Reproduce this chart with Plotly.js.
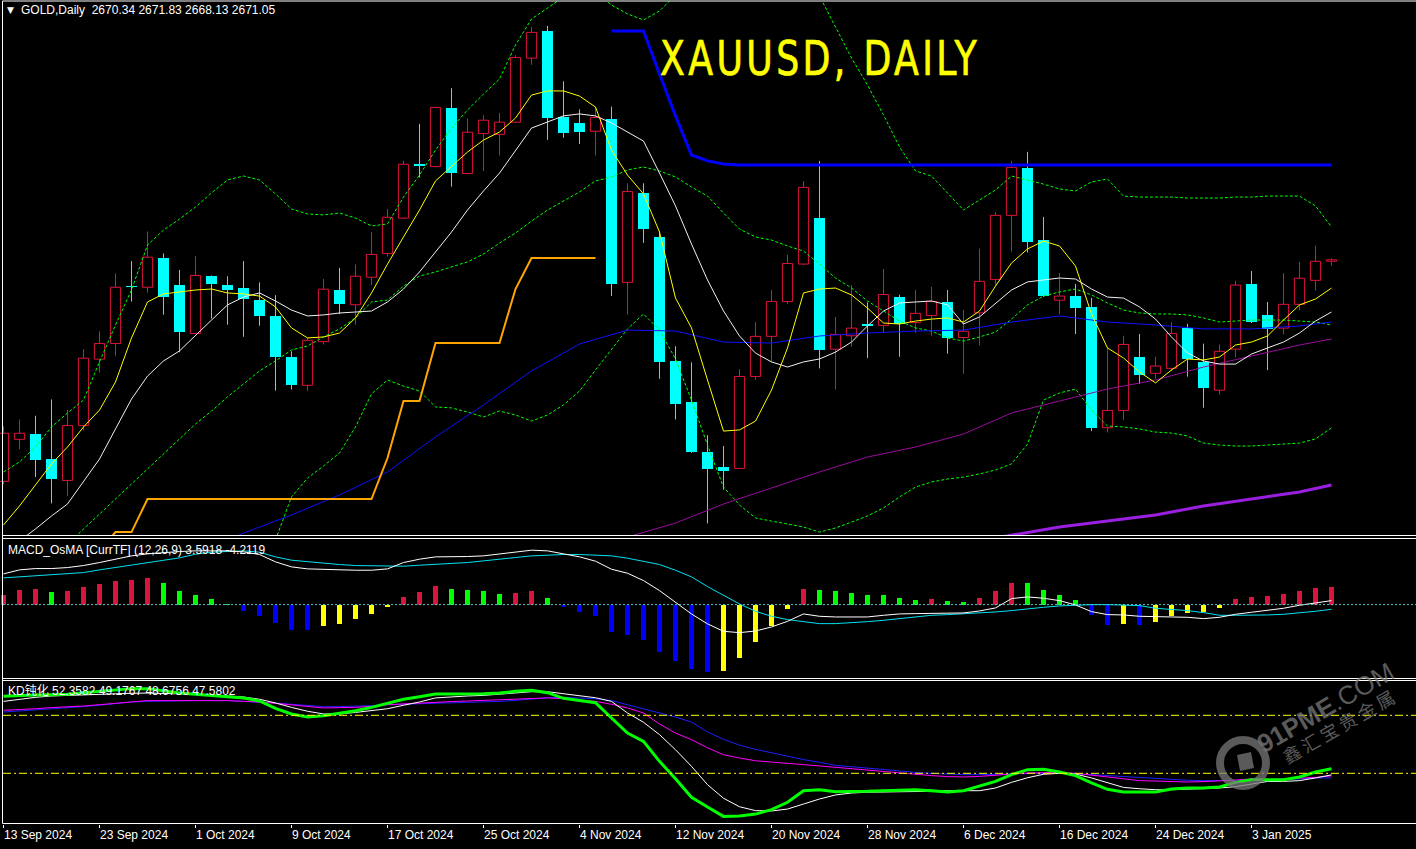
<!DOCTYPE html>
<html>
<head>
<meta charset="utf-8">
<script src="https://cdn.plot.ly/plotly-3.0.1.min.js"></script>
<style>
  html, body { margin: 0; padding: 0; background: #000; }
  #chart { width: 1416px; height: 849px; }
</style>
</head>
<body>
<div id="chart"></div>
<script>
// ---- Daily bars, 13 Sep 2024 .. 10 Jan 2025 (bar index 0..83) ----
const dateBars   = [0, 6, 12, 18, 24, 30, 36, 42, 48, 54, 60, 66, 72, 78];
const dateLabels = ['13 Sep 2024', '23 Sep 2024', '1 Oct 2024', '9 Oct 2024', '17 Oct 2024',
  '25 Oct 2024', '4 Nov 2024', '12 Nov 2024', '20 Nov 2024', '28 Nov 2024', '6 Dec 2024',
  '16 Dec 2024', '24 Dec 2024', '3 Jan 2025'];

const open = [2558.3,2579.7,2582.5,2569.7,2558.8,2586.7,2620.5,2628.5,2657.8,2657.1,
  2671.8,2658.5,2633.6,2662.7,2658.5,2656.6,2650.6,2642.7,2621.5,2607.2,
  2629.4,2655.7,2648.2,2662.2,2674.3,2692.3,2719.7,2718.5,2748.1,2715.0,
  2735.3,2734.9,2741.1,2773.7,2787.5,2743.7,2740.7,2736.5,2742.6,2659.6,
  2705.1,2682.7,2619.6,2598.8,2573.3,2565.5,2564.9,2611.7,2632.1,2649.8,
  2668.9,2692.3,2625.6,2632.4,2638.5,2637.7,2652.2,2639.1,2642.7,2649.6,
  2631.5,2644.1,2661.1,2693.7,2717.8,2681.1,2650.5,2652.6,2646.8,2585.6,
  2594.4,2621.5,2613.3,2615.8,2636.4,2619.3,2604.7,2625.6,2658.7,2642.9,
  2636.3,2648.4,2660.6,2670.34];
const high = [2586.3,2589.8,2591.7,2600.0,2594.7,2625.6,2634.7,2664.1,2670.4,2685.5,
  2674.3,2665.9,2672.9,2663.1,2662.7,2670.4,2659.6,2653.1,2624.5,2631.5,
  2661.3,2666.9,2668.7,2685.2,2696.9,2721.4,2740.2,2749.0,2758.4,2743.0,
  2744.6,2745.8,2775.2,2789.6,2790.1,2761.9,2747.6,2749.0,2749.0,2710.0,
  2710.0,2685.5,2627.1,2618.9,2581.8,2576.3,2615.4,2639.4,2655.7,2673.6,
  2711.1,2721.4,2642.0,2658.2,2649.4,2666.4,2653.3,2655.7,2657.3,2655.7,
  2645.6,2676.7,2695.3,2721.4,2726.0,2692.9,2664.3,2658.7,2651.7,2626.3,
  2632.4,2633.3,2621.7,2639.4,2638.5,2628.4,2628.0,2660.4,2665.4,2649.6,
  2664.3,2670.1,2678.3,2671.83];
const low = [2557.0,2574.7,2560.5,2547.1,2550.9,2584.2,2613.7,2622.2,2649.8,2654.3,
  2643.1,2624.0,2633.3,2641.2,2638.0,2631.9,2637.5,2604.5,2605.1,2604.4,
  2628.0,2643.4,2638.0,2658.2,2672.7,2691.8,2713.0,2718.1,2708.3,2714.6,
  2716.2,2724.1,2740.7,2770.3,2732.1,2733.2,2730.0,2724.1,2652.6,2643.1,
  2679.7,2610.5,2589.8,2572.8,2536.9,2554.1,2564.6,2610.0,2618.9,2648.7,
  2668.3,2615.8,2605.1,2626.8,2621.0,2633.8,2621.7,2634.0,2632.4,2623.3,
  2613.1,2627.5,2658.2,2675.2,2674.8,2652.2,2643.3,2633.3,2583.9,2583.2,
  2589.5,2607.9,2610.5,2614.4,2611.6,2595.8,2602.4,2621.5,2638.9,2614.9,
  2633.1,2645.4,2655.4,2668.13];
const close = [2582.8,2582.8,2569.3,2559.7,2586.7,2621.0,2628.5,2657.1,2657.1,2672.4,
  2651.9,2634.5,2663.1,2658.9,2655.9,2651.3,2642.6,2621.7,2607.5,2630.1,
  2656.1,2648.5,2662.7,2673.8,2692.7,2719.7,2719.0,2748.6,2715.0,2736.0,
  2742.1,2741.1,2774.0,2786.8,2743.2,2735.8,2736.3,2743.5,2658.7,2705.8,
  2686.9,2619.3,2597.9,2573.2,2564.8,2563.7,2611.7,2632.1,2649.9,2669.2,
  2707.9,2625.4,2633.1,2636.3,2637.5,2653.4,2638.5,2643.8,2649.9,2631.5,
  2634.7,2660.1,2693.7,2718.1,2680.3,2652.9,2652.6,2646.3,2585.6,2594.4,
  2628.0,2612.6,2617.0,2633.6,2620.8,2605.9,2624.5,2658.2,2639.6,2635.6,
  2648.4,2661.7,2670.3,2671.05];

// Moving averages on the price panel
const maFast = [2536.1,2545.8,2556.5,2567.2,2575.8,2586.0,2594.6,2608.9,2631.3,2649.6,
  2653.7,2654.7,2655.7,2656.2,2654.2,2653.7,2652.6,2647.1,2636.4,2631.3,
  2631.8,2633.8,2641.5,2654.2,2668.9,2682.7,2696.4,2711.2,2718.8,2725.9,
  2732.0,2736.1,2743.2,2754.9,2757.0,2757.0,2754.4,2748.8,2726.9,2714.2,
  2704.6,2685.2,2651.6,2636.4,2609.9,2583.9,2584.5,2589.0,2604.8,2626.2,
  2654.2,2656.2,2656.7,2653.2,2646.5,2638.9,2638.4,2639.9,2640.9,2641.5,
  2639.4,2645.0,2657.7,2669.4,2676.6,2680.6,2678.1,2667.9,2643.5,2626.2,
  2621.1,2614.0,2608.4,2615.0,2620.6,2620.1,2621.6,2627.7,2629.2,2632.3,
  2640.4,2648.1,2651.1,2656.7];
const maMid = [2521.3,2528.0,2534.1,2540.7,2546.8,2558.5,2569.7,2585.0,2600.2,2611.9,
  2619.6,2624.7,2632.8,2640.4,2648.1,2652.1,2654.2,2650.1,2645.5,2642.5,
  2643.0,2644.0,2644.5,2645.0,2649.6,2656.2,2664.9,2675.0,2685.2,2696.4,
  2706.1,2715.2,2726.9,2738.1,2741.2,2744.3,2745.3,2744.3,2740.7,2736.1,
  2731.5,2715.2,2698.5,2679.1,2660.8,2645.0,2632.3,2623.6,2619.1,2616.5,
  2619.1,2620.6,2624.1,2629.2,2637.4,2645.0,2649.1,2649.6,2650.1,2648.1,
  2638.4,2642.0,2649.1,2655.7,2659.8,2660.8,2661.8,2661.3,2656.2,2652.1,
  2651.6,2647.1,2640.9,2631.8,2623.6,2619.6,2618.0,2618.0,2623.1,2626.2,
  2629.2,2633.8,2639.9,2644.5];

// Bollinger bands
const bbUpper = [2563.1,2568.2,2575.8,2586.0,2593.1,2599.7,2619.1,2637.9,2655.7,2678.6,
  2686.2,2691.8,2697.9,2705.1,2711.7,2713.7,2711.7,2704.6,2696.9,2694.4,
  2693.9,2694.9,2692.3,2688.3,2689.3,2703.0,2714.2,2726.9,2738.1,2747.3,
  2755.4,2763.1,2780.4,2793.6,2799.2,2804.8,2806.8,2807.4,2800.7,2796.2,
  2793.1,2797.7,2805.8,2816.5,2830.3,2834.3,2827.2,2825.7,2824.1,2819.6,
  2816.0,2805.3,2789.5,2773.8,2760.0,2744.8,2728.5,2716.3,2713.7,2705.1,
  2696.4,2701.5,2706.6,2713.7,2711.7,2709.6,2707.1,2706.1,2710.7,2712.2,
  2703.5,2703.0,2703.0,2703.0,2702.5,2702.5,2702.5,2703.0,2703.0,2703.5,
  2703.5,2703.5,2698.5,2687.8];
const bbMiddle = [null,null,null,null,2526.4,2534.1,2541.7,2549.3,2557.0,2564.6,
  2572.2,2579.9,2587.5,2594.1,2601.3,2607.9,2614.5,2619.6,2625.2,2627.2,
  2631.8,2635.9,2641.5,2649.6,2650.6,2657.7,2662.8,2664.9,2667.4,2670.0,
  2674.0,2679.6,2684.7,2690.8,2696.4,2701.0,2705.6,2711.2,2713.2,2716.8,
  2718.3,2716.3,2713.2,2708.1,2703.5,2694.9,2686.7,2682.7,2681.1,2678.1,
  2675.5,2668.9,2661.8,2656.7,2650.1,2645.0,2639.9,2636.4,2634.8,2631.3,
  2629.7,2631.8,2634.3,2640.9,2648.1,2652.6,2654.7,2656.2,2653.2,2649.1,
  2645.5,2644.0,2643.5,2643.5,2643.0,2641.5,2639.4,2639.9,2640.4,2640.4,
  2640.4,2639.9,2639.4,2637.9];
const bbLower = [null,null,null,null,null,null,null,null,null,null,
  null,null,null,null,null,null,null,2528.5,2550.4,2560.0,
  2566.1,2572.8,2586.0,2602.8,2609.9,2606.8,2604.3,2596.2,2595.7,2593.6,
  2591.1,2594.1,2592.1,2589.0,2592.1,2597.2,2604.3,2615.0,2625.2,2635.9,
  2643.5,2635.3,2620.6,2599.7,2576.8,2555.4,2546.3,2539.7,2538.1,2536.6,
  2535.1,2532.5,2534.6,2537.6,2540.7,2544.8,2550.4,2555.4,2558.0,2559.5,
  2560.5,2562.1,2564.1,2567.2,2577.3,2599.7,2603.3,2605.3,2594.6,2586.5,
  2586.0,2585.0,2583.4,2582.9,2581.4,2577.8,2576.8,2576.3,2576.3,2576.8,
  2577.3,2577.8,2579.9,2585.5];

// Slow moving averages, read every third bar
const maSlowBars = [14,15,18,21,24,27,30,33,36,39,42,45,48,51,54,57,60,63,66,69,72,75,78,81,83];
const maSlow = [2528.5,2532.0,2541.2,2551.4,2563.1,2580.9,2597.2,2614.5,2628.2,2635.3,
  2634.8,2629.2,2628.7,2632.3,2633.8,2634.8,2635.3,2639.4,2642.5,2639.4,
  2637.9,2635.9,2635.9,2637.4,2639.4];
const maLongBars = [39,42,45,48,51,54,57,60,63,66,69,72,75,78,81,83];
const maLong = [2530.0,2537.1,2546.8,2554.9,2563.1,2570.7,2575.8,2582.4,2593.1,2599.2,
  2605.3,2609.9,2616.5,2622.1,2627.7,2630.8];
const maTrendBars = [62,63,66,69,72,75,78,81,83];
const maTrend = [2529.5,2531.0,2535.1,2538.1,2541.2,2545.8,2549.3,2552.9,2556.5];

// Stepped support (orange) and resistance (blue) levels
const supportLevel = [null,null,null,null,null,null,2522.9,2532.5,2532.5,2549.3,
  2549.3,2549.3,2549.3,2549.3,2549.3,2549.3,2549.3,2549.3,2549.3,2549.3,
  2549.3,2549.3,2549.3,2549.3,2570.2,2599.2,2599.2,2628.7,2628.7,2628.7,
  2628.7,2628.7,2656.2,2672.0,2672.0,2672.0,2672.0,2672.0];
const resistanceLevel = [null,null,null,null,null,null,null,null,null,null,
  null,null,null,null,null,null,null,null,null,null,
  null,null,null,null,null,null,null,null,null,null,
  null,null,null,null,null,null,null,null,2787.5,2787.5,
  2787.5,2765.6,2744.3,2724.4,2721.4,2719.8,2719.3,2719.3,2719.3,2719.3,
  2719.3,2719.3,2719.3,2719.3,2719.3,2719.3,2719.3,2719.3,2719.3,2719.3,
  2719.3,2719.3,2719.3,2719.3,2719.3,2719.3,2719.3,2719.3,2719.3,2719.3,
  2719.3,2719.3,2719.3,2719.3,2719.3,2719.3,2719.3,2719.3,2719.3,2719.3,
  2719.3,2719.3,2719.3,2719.3];

// MACD_OsMA (12,26,9)
const osma = [8.4,12.9,13.8,11.1,12.0,15.6,18.3,21.0,21.9,23.7,
  19.2,12.0,9.0,4.8,0.3,-6.0,-10.5,-16.8,-22.8,-23.1,
  -19.2,-17.7,-13.2,-8.7,-2.4,6.6,11.1,16.5,13.8,12.9,
  12.0,9.3,10.2,12.0,5.7,-2.1,-6.9,-10.5,-24.9,-27.6,
  -32.1,-42.9,-51.0,-57.9,-60.9,-60.0,-48.3,-33.9,-19.5,-4.2,
  13.8,12.9,12.0,10.2,8.4,8.3,5.7,3.9,4.8,3.0,
  2.1,5.7,12.0,19.4,19.2,12.9,8.4,3.9,-9.6,-18.0,
  -17.7,-18.6,-15.9,-10.5,-7.2,-6.9,-3.3,4.8,6.6,7.5,
  9.3,12.0,14.7,15.6];
const macdMain = [27.6,31.2,32.4,32.4,33.3,35.1,37.8,40.8,43.8,45.6,
  46.8,47.7,48.3,48.3,48.3,47.4,45.0,38.4,33.9,32.1,
  31.5,30.9,30.9,30.9,32.1,37.8,40.8,42.9,42.9,43.2,
  43.8,45.3,47.4,48.9,48.3,45.6,42.9,39.0,31.8,28.2,
  21.6,12.6,1.8,-8.4,-17.3,-24.0,-25.2,-23.7,-20.1,-15.0,
  -8.4,-10.5,-11.1,-11.1,-11.1,-9.6,-8.4,-8.1,-8.1,-8.1,
  -7.5,-5.7,-3.0,5.4,6.9,5.7,3.6,-0.3,-6.3,-9.0,
  -9.3,-10.5,-11.1,-11.1,-11.4,-12.6,-11.4,-8.7,-6.9,-5.1,
  -3.3,-0.6,1.5,3.5918];
const macdSignal = [24.0,24.9,25.5,26.4,27.6,28.8,31.2,33.3,35.7,37.8,
  39.3,42.0,45.3,47.1,47.7,48.3,47.1,42.9,39.9,38.4,
  37.2,36.0,35.1,34.8,34.2,34.5,35.4,36.0,36.9,37.8,
  39.3,40.5,42.3,43.8,44.7,45.0,45.0,44.7,43.8,41.7,
  39.0,36.0,30.9,24.9,16.2,8.1,0.6,-6.0,-10.5,-13.5,
  -15.6,-17.1,-17.1,-16.5,-15.3,-14.1,-12.6,-10.8,-9.6,-9.0,
  -8.4,-7.8,-6.6,-5.4,-3.6,-2.4,-1.2,-0.3,0.0,0.0,
  -0.3,-0.9,-3.3,-4.2,-5.4,-7.2,-9.6,-9.6,-9.6,-9.3,
  -8.7,-7.5,-6.0,-4.2119];

// KD panel
const kdFast = [89.8,90.3,90.5,90.7,90.9,91.7,92.4,93.4,93.8,93.8,
  92.7,91.5,90.9,90.2,89.6,89.0,87.4,83.6,80.7,79.1,
  79.8,81.0,82.4,84.1,86.4,88.3,89.6,91.0,91.0,91.0,
  91.2,91.5,92.4,92.9,91.7,88.8,87.6,86.5,78.6,70.8,
  66.5,56.2,47.2,37.6,32.6,27.7,27.9,28.9,31.2,35.0,
  41.0,41.5,40.5,40.5,40.7,41.0,41.4,41.5,41.0,40.3,
  41.0,43.4,45.8,49.3,51.9,52.1,50.7,48.8,45.0,41.7,
  40.3,40.3,40.3,41.9,42.4,42.4,42.9,45.3,46.7,46.7,
  46.7,48.1,50.7,52.3582];
const kdK = [87.2,88.4,89.3,90.0,90.3,90.7,90.9,91.0,91.4,91.5,
  91.4,91.2,90.9,90.5,90.0,89.5,88.3,86.4,84.1,82.1,
  80.7,80.7,81.5,82.6,83.4,85.2,86.9,89.0,89.6,90.0,
  90.3,90.9,91.4,92.2,92.2,91.2,90.3,89.1,87.2,81.2,
  76.4,70.0,62.2,53.6,44.1,37.1,32.7,30.7,30.5,31.5,
  34.1,36.7,38.8,39.8,40.2,40.3,40.3,40.5,40.7,41.0,
  41.0,41.0,42.4,45.3,47.7,49.5,50.0,49.6,47.6,45.0,
  42.7,42.0,41.5,41.5,41.7,42.0,42.4,43.1,44.3,45.8,
  45.8,46.2,47.6,49.1767];
const kdD = [82.6,82.9,83.4,84.0,84.3,84.8,85.5,86.2,87.2,87.6,
  87.6,87.6,87.6,87.6,87.6,87.2,86.9,86.2,85.5,84.5,
  83.8,84.0,84.1,84.6,85.5,85.9,86.4,86.9,87.1,87.4,
  87.7,88.1,88.4,88.8,89.0,88.6,87.9,87.2,85.7,83.8,
  81.2,75.5,70.8,67.4,63.2,59.6,57.9,56.5,55.8,55.3,
  54.5,53.8,53.1,52.4,51.5,50.7,50.0,49.3,48.8,48.3,
  48.1,48.4,49.1,49.8,50.2,50.3,50.5,50.0,49.1,48.1,
  47.2,46.2,46.0,45.8,45.5,45.7,46.0,46.5,47.1,46.7,
  47.1,47.4,47.9,48.6756];
const kdSlow = [81.7,82.2,82.7,83.3,83.8,84.5,85.2,85.9,86.9,87.2,
  87.4,87.6,87.6,87.6,87.6,87.2,86.9,86.4,85.7,85.0,
  84.5,84.5,84.6,85.0,85.5,85.7,86.0,86.2,86.4,86.5,
  86.7,87.2,87.7,88.3,89.1,89.3,89.0,88.6,87.6,85.5,
  83.4,81.4,79.1,76.5,71.4,67.6,64.6,62.4,60.5,58.8,
  57.1,55.7,54.1,53.4,52.6,51.9,51.2,50.5,50.0,49.6,
  49.3,49.3,49.5,49.6,49.8,50.0,50.2,49.8,49.3,48.8,
  48.3,47.6,47.1,46.7,46.4,46.2,46.2,46.4,46.5,46.7,
  46.7,47.1,47.6,47.5802];
const kdLevels = [80, 50];

// ---- figure geometry (pixels of the 1416 x 849 page) ----
const W = 1416, H = 849;
const PX = x => x / W;
const PY = y => 1 - y / H;
const BAR_PX = 16, FIRST_BAR_PX = 3.5;
const xRange = [-FIRST_BAR_PX / BAR_PX, (W - FIRST_BAR_PX) / BAR_PX];

const N = close.length;
const idx = close.map((_, i) => i);

const UP = '#DC143C', DOWN = '#00FFFF';
const FONT = 'Liberation Sans, Arial, sans-serif';
const TITLE = 'XAUUSD, DAILY';
const TITLE_WIDTH = 320;   // drawn width of the condensed title, px

// candle bodies and wicks
const upX = [], upBase = [], upLen = [], dnX = [], dnBase = [], dnLen = [];
const wUpX = [], wUpY = [], wDnX = [], wDnY = [];
for (let i = 0; i < N; i++) {
  const top = Math.max(open[i], close[i]);
  const bot = Math.min(open[i], close[i]);
  const len = Math.max(top - bot, 0.6);
  if (close[i] >= open[i]) {
    upX.push(i); upBase.push(bot); upLen.push(len);
    wUpX.push(i, i, null, i, i, null);
    wUpY.push(high[i], top, null, bot, low[i], null);
  } else {
    dnX.push(i); dnBase.push(bot); dnLen.push(len);
    wDnX.push(i, i, null);
    wDnY.push(high[i], low[i], null);
  }
}

// histogram colours follow the sign and the direction of the OsMA value
const osmaColors = osma.map((v, i) => {
  const prev = i > 0 ? osma[i - 1] : (v >= 0 ? -Infinity : Infinity);
  if (v >= 0) return v >= prev ? '#DC143C' : '#00FF00';
  return v < prev ? '#0000FF' : '#FFFF00';
});

const line = (x, y, color, width, yaxis, dash) => ({
  type: 'scatter', mode: 'lines', x, y, yaxis: yaxis || 'y', xaxis: 'x',
  line: { color, width, dash: dash || 'solid' }, connectgaps: false, hoverinfo: 'skip'
});

const traces = [
  // price panel
  { type: 'scatter', mode: 'lines', x: wUpX, y: wUpY, line: { color: UP, width: 1 }, hoverinfo: 'skip' },
  { type: 'scatter', mode: 'lines', x: wDnX, y: wDnY, line: { color: DOWN, width: 1 }, hoverinfo: 'skip' },
  { type: 'bar', x: upX, y: upLen, base: upBase, width: 0.64,
    marker: { color: 'rgba(0,0,0,0)', line: { color: UP, width: 1 } }, hoverinfo: 'skip' },
  { type: 'bar', x: dnX, y: dnLen, base: dnBase, width: 0.7,
    marker: { color: DOWN, line: { width: 0 } }, hoverinfo: 'skip' },
  line(idx, bbUpper, '#00FF00', 1, 'y', '3px,2px'),
  line(idx, bbMiddle, '#00FF00', 1, 'y', '3px,2px'),
  line(idx, bbLower, '#00FF00', 1, 'y', '3px,2px'),
  line(maTrendBars, maTrend, '#9B1FE0', 3),
  line(maLongBars, maLong, '#9A0C9A', 1),
  line(maSlowBars, maSlow, '#1010FF', 1),
  line(idx, maMid, '#F0F0F0', 1),
  line(idx, maFast, '#FFFF00', 1),
  line(idx.slice(0, supportLevel.length), supportLevel, '#FFA500', 2),
  line(idx, resistanceLevel, '#0000FF', 3),
  // MACD panel
  { type: 'bar', x: idx, y: osma, yaxis: 'y2', width: 0.34,
    marker: { color: osmaColors, line: { width: 0 } }, hoverinfo: 'skip' },
  line(idx, macdSignal, '#00E0F0', 1, 'y2'),
  line(idx, macdMain, '#FFFFFF', 1, 'y2'),
  // KD panel
  line(idx, kdSlow, '#1E1EFF', 1, 'y3'),
  line(idx, kdD, '#FF00FF', 1, 'y3'),
  line(idx, kdK, '#FFFFFF', 1, 'y3'),
  line(idx, kdFast, '#00FF00', 3, 'y3')
];

// panel frames
const frameColor = '#FFFFFF';
const hLine = y => ({ type: 'line', xref: 'paper', yref: 'paper', x0: PX(2.5), x1: 1,
  y0: PY(y), y1: PY(y), line: { color: frameColor, width: 1 } });
const shapes = [
  hLine(1), hLine(535.5), hLine(538.5), hLine(678.5), hLine(680.5), hLine(823.5),
  { type: 'line', xref: 'paper', yref: 'paper', x0: PX(2.5), x1: PX(2.5), y0: PY(1), y1: PY(823.5),
    line: { color: frameColor, width: 1 } },
  { type: 'line', xref: 'paper', yref: 'y2', x0: PX(3), x1: 1, y0: 0, y1: 0,
    line: { color: '#4FC8C8', width: 1, dash: '2px,2px' } }
];
kdLevels.forEach(v => shapes.push({ type: 'line', xref: 'paper', yref: 'y3', x0: PX(3), x1: 1,
  y0: v, y1: v, line: { color: '#FFFF00', width: 1, dash: '8px,3px,2px,3px' } }));

// watermark logo
const wmColor = 'rgba(120,120,120,0.75)';
shapes.push({ type: 'circle', xref: 'paper', yref: 'paper',
  x0: PX(1243 - 23), x1: PX(1243 + 23), y0: PY(763 + 23), y1: PY(763 - 23),
  line: { color: wmColor, width: 8 } });
const sq = [[1237, 755], [1251, 752], [1254, 768], [1240, 771]];
shapes.push({ type: 'path', xref: 'paper', yref: 'paper', fillcolor: wmColor, line: { width: 0 },
  path: 'M' + sq.map(p => PX(p[0]) + ',' + PY(p[1])).join(' L') + ' Z' });

const last = N - 1;
const annotations = [
  { xref: 'paper', yref: 'paper', x: PX(5), y: PY(10), xanchor: 'left', yanchor: 'middle',
    text: '\u25BC', showarrow: false, font: { family: 'DejaVu Sans, sans-serif', size: 9, color: '#FFFFFF' } },
  { xref: 'paper', yref: 'paper', x: PX(19), y: PY(10), xanchor: 'left', yanchor: 'middle',
    text: 'GOLD,Daily\u00A0\u00A0' + [open[last], high[last], low[last], close[last]].map(v => v.toFixed(2)).join(' '),
    showarrow: false, font: { family: FONT, size: 12, color: '#FFFFFF' } },
  { xref: 'paper', yref: 'paper', x: PX(658), y: PY(58), xanchor: 'left', yanchor: 'middle',
    text: TITLE, showarrow: false,
    font: { family: 'Liberation Sans Narrow, DejaVu Sans Condensed, Liberation Sans, sans-serif', size: 48, color: '#FFFF00' } },
  { xref: 'paper', yref: 'paper', x: PX(6), y: PY(550), xanchor: 'left', yanchor: 'middle',
    text: 'MACD_OsMA [CurrTF] (12,26,9) ' + macdMain[last].toFixed(4) + ' ' + macdSignal[last].toFixed(4),
    showarrow: false, font: { family: FONT, size: 12, color: '#FFFFFF' } },
  { xref: 'paper', yref: 'paper', x: PX(6), y: PY(691), xanchor: 'left', yanchor: 'middle',
    text: 'KD钝化 ' + [kdFast[last], kdK[last], kdD[last], kdSlow[last]].map(v => v.toFixed(4)).join(' '),
    showarrow: false, font: { family: FONT + ', Noto Sans CJK SC', size: 12, color: '#FFFFFF' } },
  { xref: 'paper', yref: 'paper', x: PX(1325), y: PY(708), xanchor: 'center', yanchor: 'middle',
    text: '<b>91PME</b>.COM', textangle: -30, showarrow: false,
    font: { family: FONT, size: 26, color: wmColor } },
  { xref: 'paper', yref: 'paper', x: PX(1338), y: PY(726), xanchor: 'center', yanchor: 'middle',
    text: '鑫\u2009汇\u2009宝\u2009贵\u2009金\u2009属', textangle: -30, showarrow: false,
    font: { family: 'Noto Sans CJK SC, sans-serif', size: 18, color: wmColor } }
];

const hiddenY = (domain, range) => ({ domain, range, visible: false, fixedrange: true,
  showgrid: false, zeroline: false });

const layout = {
  width: W, height: H,
  margin: { l: 0, r: 0, t: 0, b: 0, pad: 0 },
  paper_bgcolor: '#000000', plot_bgcolor: '#000000',
  showlegend: false, barmode: 'overlay', bargap: 0,
  xaxis: {
    domain: [0, 1], range: xRange, anchor: 'y3', fixedrange: true,
    showgrid: false, zeroline: false, showline: false,
    tickmode: 'array', tickvals: dateBars, ticktext: dateLabels,
    ticks: 'outside', ticklen: 3, tickwidth: 1, tickcolor: '#FFFFFF',
    ticklabelposition: 'outside right',
    tickfont: { family: FONT, size: 12, color: '#FFFFFF' }
  },
  yaxis: hiddenY([PY(535.5), PY(1)], [2803.28 - 0.5089 * 535.5, 2803.28 - 0.5089 * 1]),
  yaxis2: hiddenY([PY(678.5), PY(538.5)], [-66.4, 59.4]),
  yaxis3: hiddenY([PY(823.5), PY(680.5)], [50 - (823.5 - 773.3) / 1.933, 50 + (773.3 - 680.5) / 1.933]),
  shapes, annotations
};

// The title is set in a condensed, widely spaced face: open up the letter
// spacing, then squeeze the text horizontally to its drawn width, keeping
// its left edge where the annotation placed it.
function condenseTitle(gd) {
  gd.querySelectorAll('.annotation-text').forEach(t => {
    if (t.textContent !== TITLE) return;
    const left = t.getBBox().x;
    t.style.letterSpacing = '4px';
    t.style.stroke = '#FFFF00';
    t.style.strokeWidth = '0.7px';
    const bb = t.getBBox();
    if (!bb.width) return;
    const s = TITLE_WIDTH / bb.width;
    t.setAttribute('transform', 'translate(' + (left - s * bb.x) + ',0) scale(' + s + ',1)');
  });
}

Plotly.newPlot('chart', traces, layout, { staticPlot: true, displayModeBar: false })
  .then(condenseTitle);
</script>
</body>
</html>
